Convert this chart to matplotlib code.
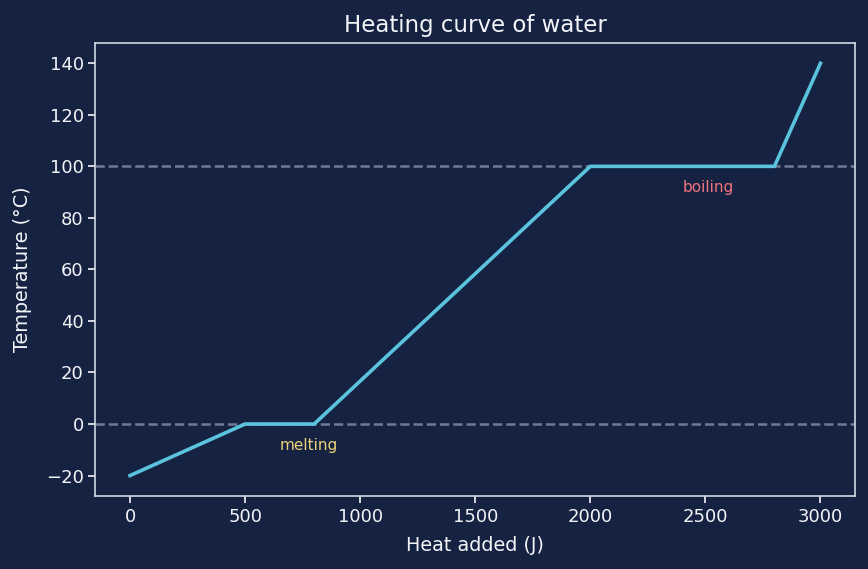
import matplotlib
matplotlib.use("Agg")
import matplotlib.pyplot as plt

# heat added (J) vs temperature (C)
heat = [0, 500, 800, 2000, 2800, 3000]
temp = [-20, 0, 0, 100, 100, 140]

phase_temps = [0, 100]
labels = ["melting", "boiling"]
label_x = [650, 2400]
label_y = [-10, 90]
label_colors = ["#e9d27a", "#f2737f"]

bg = "#162241"
fg = "#f2f4f8"

fig, ax = plt.subplots(figsize=(8.68, 5.69), dpi=100)
fig.patch.set_facecolor(bg)
ax.set_facecolor(bg)

for t in phase_temps:
    ax.axhline(t, color="#7a869f", linestyle="--", linewidth=1.8, alpha=0.9, zorder=1)

ax.plot(heat, temp, color="#5bc3dd", linewidth=2.6, zorder=3)

for txt, x, y, c in zip(labels, label_x, label_y, label_colors):
    ax.text(x, y, txt, color=c, fontsize=11, ha="left", va="baseline")

ax.set_title("Heating curve of water", color=fg, fontsize=16.5, pad=8)
ax.set_xlabel("Heat added (J)", color=fg, fontsize=13.8, labelpad=7.5)
ax.set_ylabel("Temperature (°C)", color=fg, fontsize=13.8, labelpad=10)
ax.set_yticks(range(-20, 141, 20))
ax.tick_params(colors=fg, labelsize=13, length=5, width=1.2)
for s in ax.spines.values():
    s.set_color("#d0d8e2")
    s.set_linewidth(1.2)

plt.subplots_adjust(left=0.11, right=0.985, top=0.925, bottom=0.128)
fig.savefig("out.png", facecolor=bg)
